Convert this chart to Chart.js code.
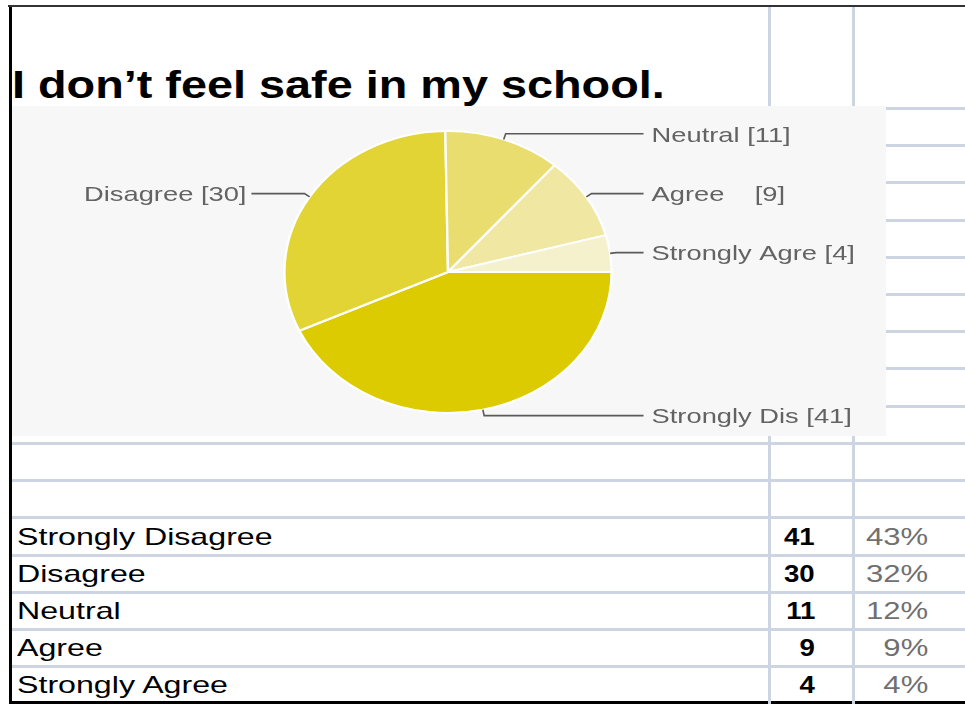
<!DOCTYPE html>
<html>
<head>
<meta charset="utf-8">
<script src="https://cdn.jsdelivr.net/npm/chart.js@4/dist/chart.umd.min.js"></script>
<style>
  html, body { margin: 0; padding: 0; background: #ffffff; }
  #page { position: relative; width: 965px; height: 704px; overflow: hidden; background: #fff; font-family: "Liberation Sans", Arial, sans-serif; }
  .line { position: absolute; background: #cdd5e3; }
  .txt { position: absolute; white-space: pre; }
  #chartBox { position: absolute; left: 12px; top: 106px; width: 874px; height: 330px; background: #f7f7f7; }
</style>
</head>
<body>
<div id="page">
  <div id="chartBox"><canvas id="c" width="874" height="330"></canvas></div>
</div>
<script>
// ---- data ----
const titleText = 'I don’t feel safe in my school.';
const categories = ['Strongly Disagree', 'Disagree', 'Neutral', 'Agree', 'Strongly Agree'];
const counts = [41, 30, 11, 9, 4];
const percentLabels = ['43%', '32%', '12%', '9%', '4%'];
const pieLabels = ['Strongly Dis', 'Disagree', 'Neutral', 'Agree   ', 'Strongly Agre'];
const sliceColors = ['#dccb00', '#e2d435', '#e8dd6e', '#efe7a2', '#f6f1cd'];

// ---- layout ----
const page = document.getElementById('page');
function addLine(x, y, w, h, color) {
  const d = document.createElement('div');
  d.className = 'line';
  d.style.left = x + 'px'; d.style.top = y + 'px';
  d.style.width = w + 'px'; d.style.height = h + 'px';
  if (color) d.style.background = color;
  page.insertBefore(d, page.firstChild);
}
// vertical grid lines
addLine(768, 7, 3, 700);
addLine(852, 7, 3, 700);
// horizontal grid lines at right side of chart
const rowStep = 37.2;
for (let i = 0; i < 9; i++) addLine(886, Math.round(107 + i * rowStep), 80, 3);
// horizontal grid lines below chart
for (let i = 0; i < 7; i++) addLine(12, Math.round(442 + i * rowStep), 960, 3);
// borders
addLine(8, 5, 960, 2, '#333333');
addLine(9, 5, 3, 700, '#000000');
addLine(9, 701, 960, 3, '#000000');

function addText(str, baseline, fs, opts) {
  const d = document.createElement('div');
  d.className = 'txt';
  d.textContent = str;
  d.style.fontSize = fs + 'px';
  d.style.lineHeight = fs + 'px';
  d.style.fontWeight = opts.bold ? 'bold' : 'normal';
  d.style.color = opts.color || '#000';
  d.style.top = (baseline - fs * 0.8465) + 'px';
  if (opts.right !== undefined) {
    d.style.right = (965 - opts.right) + 'px';
    d.style.transformOrigin = 'right center';
  } else {
    d.style.left = opts.left + 'px';
    d.style.transformOrigin = 'left center';
  }
  d.style.transform = 'scaleX(' + opts.sx + ')';
  page.appendChild(d);
}
addText(titleText, 98, 39, { bold: true, left: 12, sx: 1.2 });
const rowTop0 = 517;
categories.forEach((cat, i) => {
  const base = rowTop0 + i * rowStep + 28;
  addText(cat, base, 24, { left: 17, sx: 1.34 });
  addText(String(counts[i]), base, 23, { bold: true, right: 815, sx: 1.2 });
  addText(percentLabels[i], base, 23, { right: 928, sx: 1.35, color: '#707070' });
});

// ---- chart ----
const SX = 1.16;
const ellipsePlugin = {
  id: 'ellipse',
  beforeDatasetsDraw(chart) {
    const a = chart.getDatasetMeta(0).data[0];
    const ctx = chart.ctx;
    ctx.save();
    ctx.translate(a.x, a.y);
    ctx.scale(SX, 1);
    ctx.translate(-a.x, -a.y);
  },
  afterDatasetsDraw(chart) { chart.ctx.restore(); }
};
const leaderPlugin = {
  id: 'leaders',
  afterDraw(chart) {
    const ctx = chart.ctx;
    const meta = chart.getDatasetMeta(0);
    const vals = chart.data.datasets[0].data;
    meta.data.forEach((arc, i) => {
      const p = arc.getProps(['x', 'y', 'startAngle', 'endAngle', 'outerRadius'], true);
      const mid = (p.startAngle + p.endAngle) / 2;
      const rx = p.outerRadius * SX, ry = p.outerRadius;
      const c = Math.cos(mid), s = Math.sin(mid);
      const ax = p.x + rx * c, ay = p.y + ry * s;
      const ex = ax + 6 * c, ey = ay + 6 * s;
      const right = c >= 0;
      const endX = right ? p.x + rx + 32 : p.x - rx - 33;
      ctx.save();
      ctx.strokeStyle = '#5a5a5a';
      ctx.lineWidth = 1.6;
      ctx.beginPath();
      ctx.moveTo(ax, ay);
      ctx.lineTo(ex, ey);
      ctx.lineTo(endX, ey);
      ctx.stroke();
      ctx.fillStyle = '#636363';
      ctx.font = '21px "Liberation Sans", Arial, sans-serif';
      ctx.textBaseline = 'middle';
      ctx.textAlign = right ? 'left' : 'right';
      ctx.translate(right ? endX + 8 : endX - 5, ey + 2);
      ctx.scale(1.3, 1);
      ctx.fillText(pieLabels[i] + ' [' + vals[i] + ']', 0, 0);
      ctx.restore();
    });
  }
};

new Chart(document.getElementById('c'), {
  type: 'pie',
  data: {
    labels: categories,
    datasets: [{
      data: counts,
      backgroundColor: sliceColors,
      borderColor: '#ffffff',
      borderWidth: 2,
      hoverOffset: 0
    }]
  },
  options: {
    responsive: false,
    animation: false,
    rotation: 90,
    radius: 141,
    layout: { padding: { left: 286, right: 288, top: 16, bottom: 14 } },
    plugins: { legend: { display: false }, tooltip: { enabled: false } },
    events: []
  },
  plugins: [ellipsePlugin, leaderPlugin]
});
</script>
</body>
</html>
